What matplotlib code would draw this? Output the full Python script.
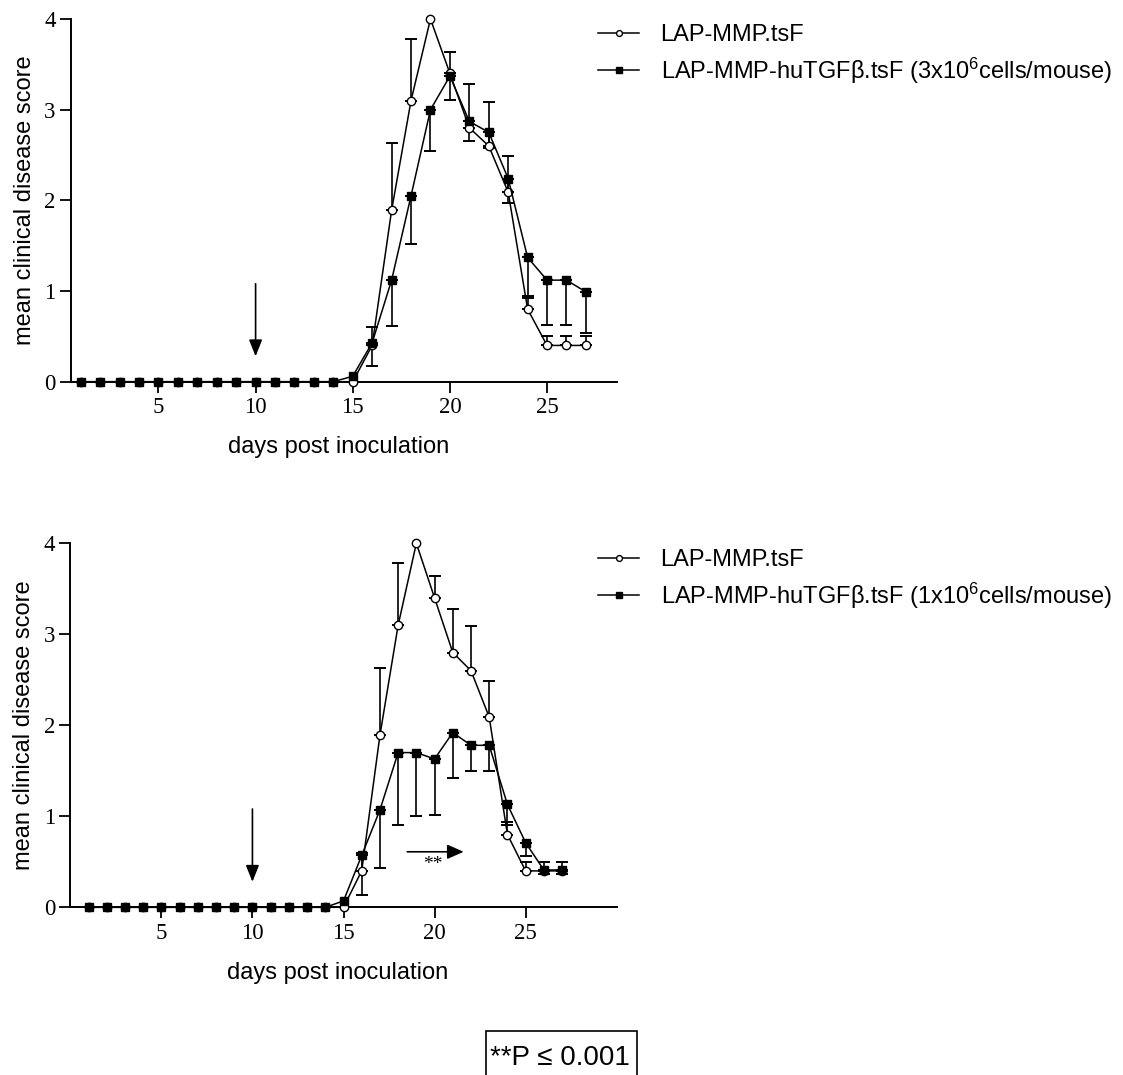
import numpy as np
import matplotlib
matplotlib.use('Agg')
import matplotlib.pyplot as plt

plt.rcParams['font.family'] = ['Liberation Sans', 'DejaVu Sans']
plt.rcParams['mathtext.default'] = 'regular'

# data (days 1..27)
days = np.arange(1, 28)
control = [0]*14 + [0, 0.40, 1.89, 3.10, 4.00, 3.40, 2.80, 2.60, 2.09, 0.80, 0.40, 0.40, 0.40]
control_err_up = [0]*14 + [0, 0.20, 0.74, 0.68, 0, 0.24, 0.48, 0.49, 0.40, 0.14, 0.10, 0.10, 0.10]

tgf_3e6 = [0]*14 + [0.06, 0.43, 1.12, 2.05, 3.00, 3.37, 2.87, 2.75, 2.24, 1.37, 1.12, 1.12, 0.99]
tgf_3e6_err_down = [0]*14 + [0, 0.26, 0.51, 0.53, 0.46, 0.26, 0.21, 0.17, 0.27, 0.45, 0.50, 0.50, 0.45]

tgf_1e6 = [0]*14 + [0.07, 0.57, 1.07, 1.70, 1.70, 1.63, 1.92, 1.78, 1.78, 1.13, 0.71, 0.41, 0.41]
tgf_1e6_err_down = [0]*14 + [0, 0.43, 0.64, 0.80, 0.70, 0.62, 0.50, 0.28, 0.28, 0.23, 0.15, 0.04, 0.04]

label_ctrl = 'LAP-MMP.tsF'
label_3e6 = 'LAP-MMP-huTGF\u03b2.tsF (3x10$^{6}$cells/mouse)'
label_1e6 = 'LAP-MMP-huTGF\u03b2.tsF (1x10$^{6}$cells/mouse)'

W, H = 1123, 1075
fig = plt.figure(figsize=(W / 100, H / 100), dpi=100)


def px_axes(x0, x1, y0, y1):
    return fig.add_axes([x0 / W, 1 - y1 / H, (x1 - x0) / W, (y1 - y0) / H])


def panel(ax, treated, treated_err, treated_label, xlim, legend_y):
    d = days
    c = np.array(control)
    cu = np.array(control_err_up)
    t = np.array(treated)
    td = np.array(treated_err)

    m = cu > 0
    ax.errorbar(d[m], c[m], yerr=[np.zeros(m.sum()), cu[m]], fmt='none',
                ecolor='black', elinewidth=1.2, capsize=4, capthick=1.4, clip_on=False)
    m = td > 0
    ax.errorbar(d[m], t[m], yerr=[td[m], np.zeros(m.sum())], fmt='none',
                ecolor='black', elinewidth=1.2, capsize=4, capthick=1.4, clip_on=False)

    ax.plot(d, c, color='black', lw=1.1, marker='o', ms=6, mfc='white', mec='black',
            mew=1.0, label=label_ctrl, clip_on=False, zorder=3)
    ax.plot(d, t, color='black', lw=1.1, marker='s', ms=6, mfc='black', mec='black',
            label=treated_label, clip_on=False, zorder=4)

    # injection arrow at day 10
    ax.annotate('', xy=(10, 0.28), xytext=(10, 1.08),
                arrowprops=dict(arrowstyle='-|>,head_length=0.5,head_width=0.2',
                                color='black', lw=1.2, mutation_scale=20,
                                shrinkA=0, shrinkB=0))

    ax.set_xlim(*xlim)
    ax.set_ylim(0, 4)
    ax.set_xticks([5, 10, 15, 20, 25])
    ax.set_yticks([0, 1, 2, 3, 4])
    for s in ['top', 'right']:
        ax.spines[s].set_visible(False)
    for s in ['left', 'bottom']:
        ax.spines[s].set_linewidth(1.4)
    ax.tick_params(direction='out', length=8, width=1.3, labelsize=16.5, pad=3)
    for lab in ax.get_xticklabels() + ax.get_yticklabels():
        lab.set_family('Liberation Serif')

    ax.set_ylabel('mean clinical disease score', fontsize=17)
    ax.set_xlabel('days post inoculation', fontsize=17)
    ax.yaxis.set_label_coords(-0.065, 0.5)
    ax.xaxis.set_label_coords(0.49, -0.15)

    ax.legend(loc='upper left', bbox_to_anchor=(598 / W, 1 - legend_y / H),
              bbox_transform=fig.transFigure, frameon=False, fontsize=17,
              handlelength=1.75, handletextpad=0.9, labelspacing=0.4,
              borderpad=0, borderaxespad=0, markerscale=0.7)


ax1 = px_axes(71, 617, 19, 381.7)
panel(ax1, tgf_3e6, tgf_3e6_err_down, label_3e6, (0.5, 28.6), 24)

ax2 = px_axes(70.3, 616.7, 543.3, 907.3)
panel(ax2, tgf_1e6, tgf_1e6_err_down, label_1e6, (0, 30), 549)

# significance arrow in lower panel
ax2.annotate('', xy=(21.6, 0.61), xytext=(18.5, 0.61),
             arrowprops=dict(arrowstyle='-|>,head_length=0.5,head_width=0.22',
                             color='black', lw=1.2, mutation_scale=20,
                             shrinkA=0, shrinkB=0))
ax2.text(19.9, 0.47, '**', ha='center', va='center', fontsize=14,
         family='Liberation Serif')

# p-value box at the bottom
fig.patches.append(plt.Rectangle((486 / W, -0.01), (637 - 486) / W, 1 - 1031 / H + 0.01,
                                 transform=fig.transFigure, fill=False,
                                 edgecolor='black', lw=1.2))
fig.text(560 / W, 1 - 1065 / H, '**P \u2264 0.001', ha='center', va='baseline', fontsize=20)

plt.savefig('out.png', dpi=100)
